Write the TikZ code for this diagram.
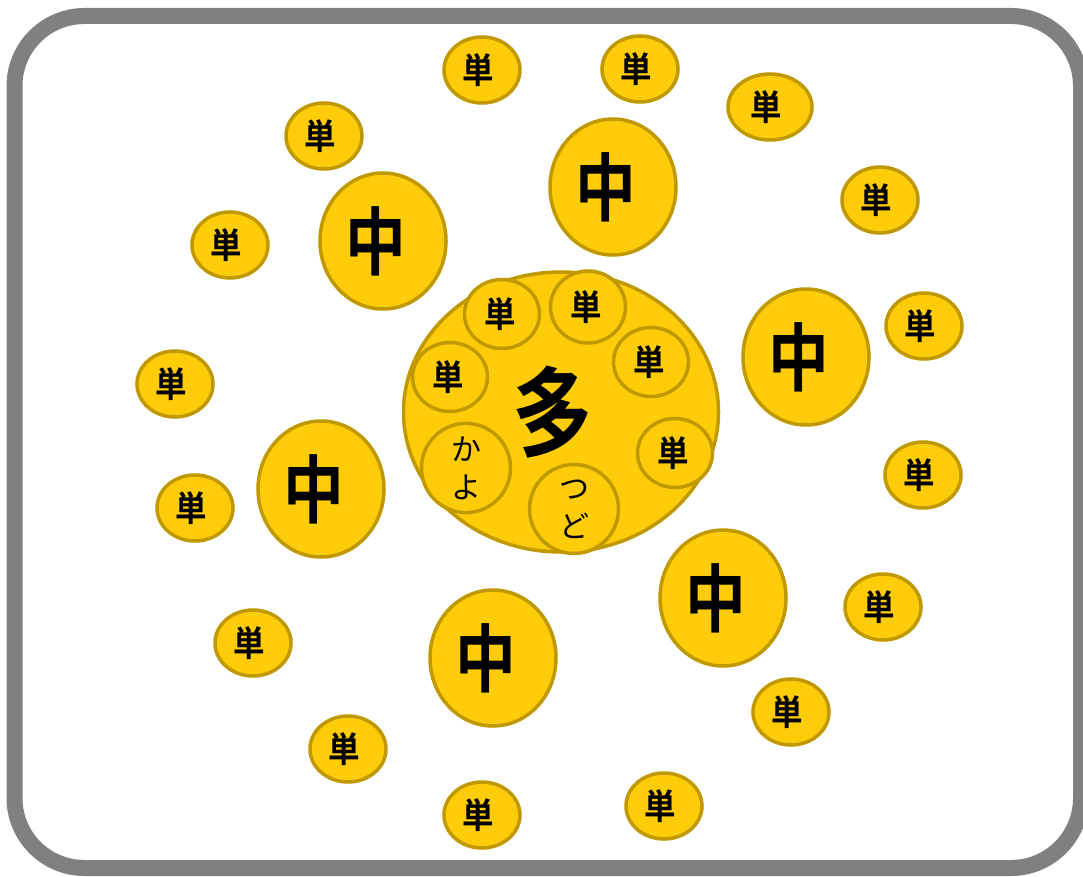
\documentclass[tikz,border=0pt]{standalone}
\usepackage{fontspec}
\newfontfamily\cjkb{Noto Sans CJK JP Bold}
\newfontfamily\cjkr{Noto Sans CJK JP}
\usetikzlibrary{shapes.geometric}
\definecolor{goldfill}{RGB}{255,204,10}
\definecolor{goldline}{RGB}{192,152,0}
\definecolor{frame}{RGB}{128,128,128}
\newcommand{\tn}{\scalebox{0.9}[1]{単}\hspace*{8pt}}
\newcommand{\tnin}{\scalebox{0.9}[1]{単}\hspace*{4pt}}
\newcommand{\ch}{\scalebox{0.82}[1]{中}\hspace*{14pt}}
\tikzset{
  x=1pt,y=-1pt,
  coin/.style={ellipse,draw=goldline,fill=goldfill,line width=3.5pt,inner sep=0pt,text=black},
  tan/.style={coin,minimum width=76pt,minimum height=66pt,font=\cjkb\fontsize{35}{35}\selectfont},
  chu/.style={coin,minimum width=126pt,minimum height=136pt,font=\cjkb\fontsize{74}{74}\selectfont},
  tanin/.style={coin,minimum width=75pt,minimum height=69pt,font=\cjkb\fontsize{35}{35}\selectfont},
  kana/.style={coin,minimum width=89pt,minimum height=89pt,align=center,font=\cjkr\fontsize{30}{38}\selectfont},
}
\begin{document}
\begin{tikzpicture}
\useasboundingbox (0,0) rectangle (1083,877);
\draw[frame,line width=16pt,rounded corners=70pt] (14.5,16) rectangle (1081,868);
% small
\node[tan] (s1) at (482,70) {\tn};
\node[tan] (s2) at (640,69) {\tn};
\node[tan,minimum width=84pt] (s3) at (770,107) {\tn};
\node[tan] (s4) at (324,136) {\tn};
\node[tan] (s5) at (880,200) {\tn};
\node[tan] (s6) at (230,245) {\tn};
\node[tan] (s7) at (924,326) {\tn};
\node[tan] (s8) at (175,384) {\tn};
\node[tan] (s9) at (923,475) {\tn};
\node[tan] (s10) at (195,508) {\tn};
\node[tan] (s11) at (883,607) {\tn};
\node[tan] (s12) at (253,643) {\tn};
\node[tan] (s13) at (791,712) {\tn};
\node[tan] (s14) at (348,749) {\tn};
\node[tan] (s15) at (482,815) {\tn};
\node[tan] (s16) at (664,806) {\tn};
% medium
\node[chu] (m1) at (613,187) {\ch};
\node[chu] (m2) at (383,241) {\ch};
\node[chu] (m3) at (806,357) {\ch};
\node[chu] (m4) at (321,489) {\ch};
\node[chu] (m5) at (723,598) {\ch};
\node[chu] (m6) at (493,658) {\ch};
% big
\node[coin,minimum width=315pt,minimum height=280pt] (big) at (561,412) {};
\node[font=\cjkb\fontsize{98}{98}\selectfont,inner sep=0pt] (bigt) at (553,412) {\scalebox{0.82}[1]{多}};
\node[tanin] (i1) at (502,314) {\tnin};
\node[tanin,minimum height=72pt] (i2) at (588,307) {\tnin};
\node[tanin] (i3) at (651,362) {\tnin};
\node[tanin] (i4) at (450,377) {\tnin};
\node[tanin] (i5) at (675,453) {\tnin};
\node[kana] (i6) at (466,468) {か\\よ};
\node[kana] (i7) at (574,509) {つ\\ど};
\end{tikzpicture}
\end{document}
